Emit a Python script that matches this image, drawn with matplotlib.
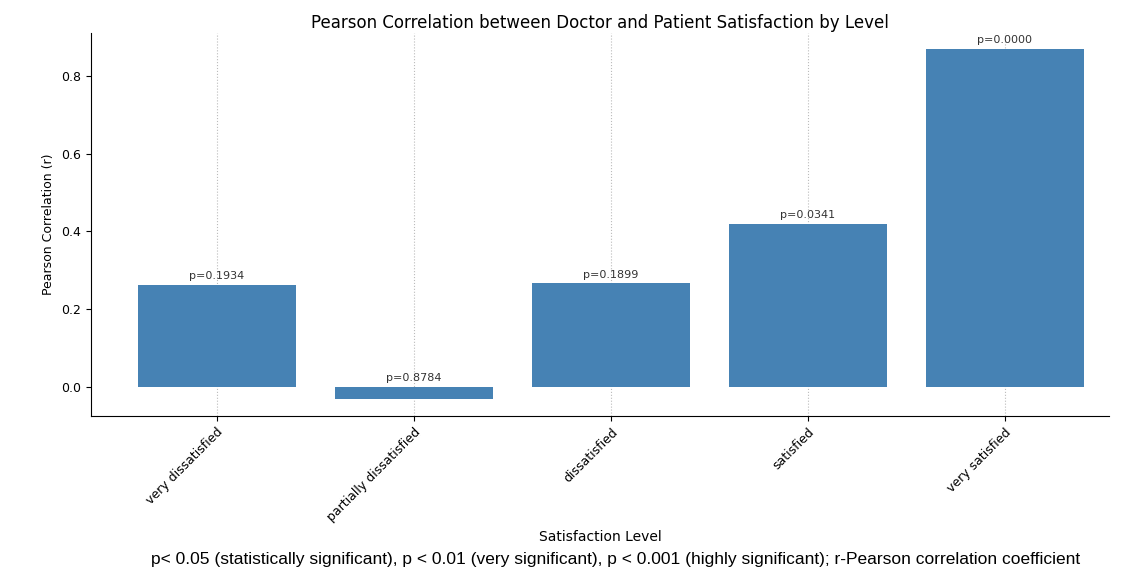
import matplotlib
matplotlib.use("Agg")
import matplotlib.pyplot as plt

levels = ["very dissatisfied", "partially dissatisfied", "dissatisfied", "satisfied", "very satisfied"]
r_values = [0.263, -0.031, 0.266, 0.418, 0.870]
p_labels = ["p=0.1934", "p=0.8784", "p=0.1899", "p=0.0341", "p=0.0000"]

fig = plt.figure(figsize=(11.32, 5.81), dpi=100)
ax = fig.add_axes([0.080, 0.284, 0.900, 0.659])
bars = ax.bar(levels, r_values, color="#4682b4", width=0.8, zorder=2)
for b, v, p in zip(bars, r_values, p_labels):
    y = max(v, 0) + 0.01
    ax.text(b.get_x() + b.get_width() / 2, y, p, ha="center", va="bottom", fontsize=8, color="#333333")
ax.set_ylim(-0.075, 0.91)
ax.set_xlim(-0.64, 4.53)
ax.set_yticks([0.0, 0.2, 0.4, 0.6, 0.8])
ax.set_yticklabels(["0.0", "0.2", "0.4", "0.6", "0.8"])
ax.grid(axis="x", linestyle=":", color="#bbbbbb", zorder=0)
ax.spines["top"].set_visible(False)
ax.spines["right"].set_visible(False)
ax.tick_params(labelsize=9)
plt.setp(ax.get_xticklabels(), rotation=45, ha="right", rotation_mode="anchor")
ax.set_ylabel("Pearson Correlation (r)", fontsize=9)
ax.set_xlabel("Satisfaction Level", fontsize=10)
ax.set_title("Pearson Correlation between Doctor and Patient Satisfaction by Level", fontsize=12, pad=4)
fig.text(0.133, 0.03, "p< 0.05 (statistically significant), p < 0.01 (very significant), p < 0.001 (highly significant); r-Pearson correlation coefficient",
         ha="left", fontsize=12.5, family="Liberation Sans")
fig.savefig("out.png", dpi=100)
